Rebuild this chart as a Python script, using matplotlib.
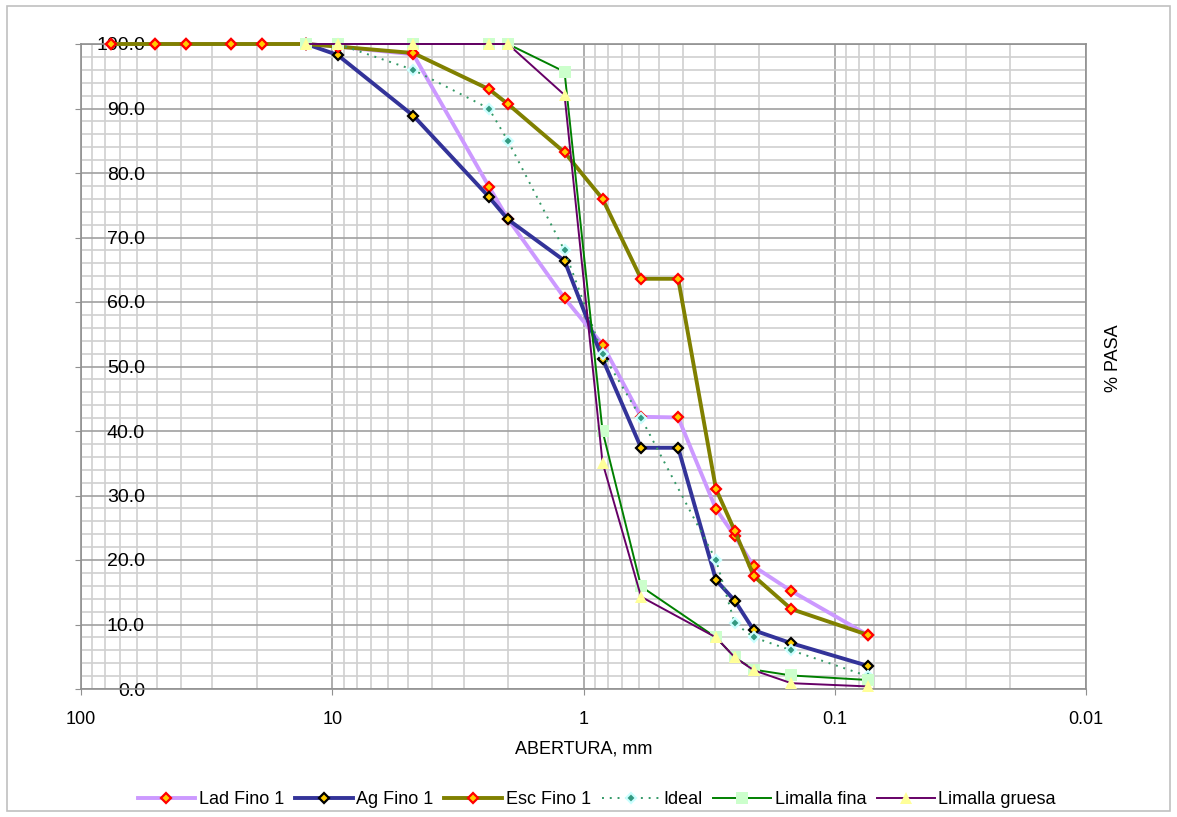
import numpy as np
import matplotlib.pyplot as plt
from matplotlib.patches import Rectangle
from matplotlib.ticker import FixedLocator, NullFormatter, MultipleLocator

plt.rcParams['font.family'] = ['Liberation Sans', 'DejaVu Sans']

# sieve openings, mm
abertura = [76.2, 50.8, 38.1, 25.4, 19.05, 12.7, 9.525, 4.76, 2.38, 2.0,
            1.19, 0.84, 0.59, 0.42, 0.297, 0.25, 0.21, 0.149, 0.074]

# % passing for each series (None = no value)
lad_fino = [100, 100, 100, 100, 100, 100, 99.6, 98.4, 77.9, 72.9,
            60.6, 53.4, 42.2, 42.1, 27.9, 23.7, 19.0, 15.2, 8.4]
ag_fino = [None, None, None, None, None, 100, 98.3, 88.9, 76.3, 72.8,
           66.4, 51.2, 37.4, 37.4, 16.9, 13.7, 9.1, 7.1, 3.6]
esc_fino = [100, 100, 100, 100, 100, 100, 99.6, 98.6, 93.0, 90.7,
            83.2, 76.0, 63.6, 63.6, 31.0, 24.5, 17.5, 12.4, 8.4]
ideal = [None, None, None, None, None, None, 100, 96.0, 90.0, 85.0,
         68.0, 52.0, 42.0, None, 20.0, 10.2, 8.0, 6.0, 2.0]
limalla_fina = [None, None, None, None, None, 100, 100, 100, 100, 100,
                95.7, 40.0, 15.9, None, 8.0, 4.9, 3.0, 2.1, 1.4]
limalla_gruesa = [None, None, None, None, None, 100, 100, 100, 100, 100,
                  92.1, 35.1, 14.3, None, 8.0, 4.9, 2.9, 0.9, 0.4]

series = [
    ("Lad Fino 1", lad_fino, dict(color='#cc99ff', lw=2.8, ls='-', marker='D', ms=5.5,
                                  mfc='#ffcc00', mec='#ff0000', mew=1.6)),
    ("Ag Fino 1", ag_fino, dict(color='#333399', lw=2.8, ls='-', marker='D', ms=5.5,
                                mfc='#ffcc00', mec='#000000', mew=1.6)),
    ("Esc Fino 1", esc_fino, dict(color='#808000', lw=2.8, ls='-', marker='D', ms=5.5,
                                  mfc='#ffcc00', mec='#ff0000', mew=1.6)),
    ("Ideal", ideal, dict(color='#339966', lw=1.4, ls=(0, (1, 3)), marker='D', ms=5,
                          mfc='#339980', mec='#ccffff', mew=1.6)),
    ("Limalla fina", limalla_fina, dict(color='#008000', lw=1.4, ls='-', marker='s', ms=8.5,
                                        mfc='#ccffcc', mec='#ccffcc', mew=0)),
    ("Limalla gruesa", limalla_gruesa, dict(color='#660066', lw=1.4, ls='-', marker='^', ms=9,
                                            mfc='#ffff99', mec='#ffff99', mew=0)),
]

fig = plt.figure(figsize=(11.77, 8.17), dpi=100)
ax = fig.add_axes([81 / 1177, 1 - 689 / 817, (1086 - 81) / 1177, (689 - 44) / 817])

x_all = np.array(abertura)
for name, vals, style in series:
    y = np.array([np.nan if v is None else v for v in vals], dtype=float)
    ok = ~np.isnan(y)
    ax.plot(x_all[ok], y[ok], label=name, clip_on=False, zorder=3, **style)

ax.set_xscale('log')
ax.set_xlim(100, 0.01)
ax.set_ylim(0, 100)

# grid like the spreadsheet chart
ax.xaxis.set_major_locator(FixedLocator([100, 10, 1, 0.1, 0.01]))
ax.set_xticklabels(['100', '10', '1', '0.1', '0.01'])
minors = [m * d for d in [0.01, 0.1, 1, 10] for m in range(2, 10)]
ax.xaxis.set_minor_locator(FixedLocator(minors))
ax.xaxis.set_minor_formatter(NullFormatter())
ax.yaxis.set_major_locator(MultipleLocator(10))
ax.yaxis.set_minor_locator(MultipleLocator(2))
ax.set_yticklabels([f"{v:.1f}" for v in ax.get_yticks()])

ax.grid(which='major', color='#a0a0a0', lw=1.2)
ax.grid(which='minor', color='#d0d0d0', lw=1.2)
ax.set_axisbelow(True)

for side in ['left', 'bottom', 'top', 'right']:
    ax.spines[side].set_color('#909090')
    ax.spines[side].set_linewidth(1.2)

ax.tick_params(axis='x', which='major', direction='out', length=4, color='#909090',
               labelsize=13, pad=12)
ax.tick_params(axis='y', which='major', direction='out', length=4, color='#909090',
               labelsize=14, pad=-50)
ax.tick_params(which='minor', length=0)

ax.set_xlabel('ABERTURA, mm', fontsize=13, labelpad=9)
fig.text(1113 / 1177, 1 - 358 / 817, '% PASA', rotation=90, fontsize=13,
         ha='center', va='center')

fig.legend(loc='center', bbox_to_anchor=(0.507, 1 - 800 / 817), ncol=6, frameon=False,
           fontsize=13, handlelength=3.2, handletextpad=0.2, columnspacing=0.6)

fig.patches.append(Rectangle((7 / 1177, 6 / 817), 1163 / 1177, 805 / 817,
                             transform=fig.transFigure, fill=False,
                             edgecolor='#c0c0c0', lw=1.2))

fig.savefig('out.png', dpi=100)
